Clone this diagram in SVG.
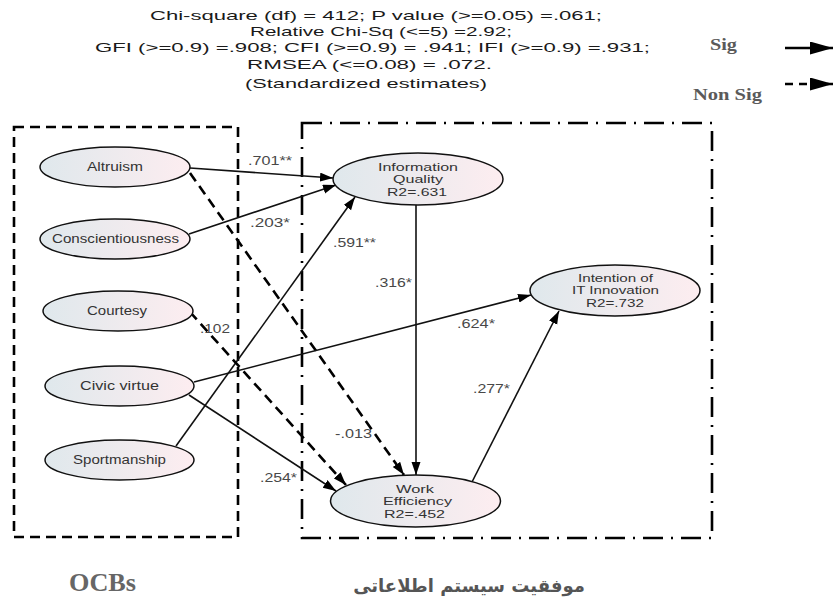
<svg xmlns="http://www.w3.org/2000/svg" width="834" height="601" viewBox="0 0 834 601">
<defs>
  <linearGradient id="g" x1="0" y1="0" x2="1" y2="0">
    <stop offset="0" stop-color="#dfe8ec"/>
    <stop offset="1" stop-color="#fdedf0"/>
  </linearGradient>
  <marker id="ah" markerUnits="userSpaceOnUse" markerWidth="14" markerHeight="10" refX="13" refY="4.5" orient="auto">
    <path d="M0,0 L13,4.5 L0,9 z" fill="#000"/>
  </marker>
  <marker id="ahL" markerUnits="userSpaceOnUse" markerWidth="24" markerHeight="14" refX="23" refY="6.5" orient="auto">
    <path d="M0,0 L23,6.5 L0,13 z" fill="#000"/>
  </marker>
  <style>
    .hdr { font-family: "Liberation Sans", Arial, sans-serif; font-size: 13px; fill: #1a1a1a; }
    .node ellipse { fill: url(#g); stroke: #111; stroke-width: 1.5; }
    .node text { font-family: "Liberation Sans", Arial, sans-serif; font-size: 12.5px; fill: #333; text-anchor: middle; }
    .node text.m { font-size: 11px; }
    .lbl { font-family: "Liberation Sans", Arial, sans-serif; font-size: 12px; fill: #484848; }
    .sig { stroke: #111; stroke-width: 1.6; fill: none; marker-end: url(#ah); }
    .ns { stroke: #000; stroke-width: 2.6; stroke-dasharray: 10 6; fill: none; marker-end: url(#ah); }
    .leg { font-family: "Liberation Serif", "Times New Roman", serif; font-weight: bold; font-size: 17px; fill: #5a5a5a; }
    .big { font-family: "Liberation Serif", "Times New Roman", serif; font-weight: bold; font-size: 26px; fill: #666; }
    .box1 { fill: none; stroke: #000; stroke-width: 2.6; stroke-dasharray: 10 6; }
    .box2 { fill: none; stroke: #000; stroke-width: 2.6; stroke-dasharray: 20 8 2 8; }
  </style>
</defs>
<rect width="834" height="601" fill="#fff"/>

<g id="header">
  <text class="hdr" x="150" y="20" textLength="452" lengthAdjust="spacingAndGlyphs">Chi-square (df) = 412;  P value (&gt;=0.05) =.061;</text>
  <text class="hdr" x="250" y="36" textLength="262" lengthAdjust="spacingAndGlyphs">Relative Chi-Sq (&lt;=5) =2.92;</text>
  <text class="hdr" x="95" y="52" textLength="555" lengthAdjust="spacingAndGlyphs">GFI (&gt;=0.9) =.908; CFI (&gt;=0.9) = .941; IFI (&gt;=0.9) =.931;</text>
  <text class="hdr" x="247" y="69" textLength="245" lengthAdjust="spacingAndGlyphs">RMSEA (&lt;=0.08) = .072.</text>
  <text class="hdr" x="245" y="88" textLength="242" lengthAdjust="spacingAndGlyphs">(Standardized estimates)</text>
</g>

<g id="legend">
  <text class="leg" x="710" y="50" textLength="27" lengthAdjust="spacingAndGlyphs">Sig</text>
  <text class="leg" x="693" y="100" textLength="69" lengthAdjust="spacingAndGlyphs">Non Sig</text>
  <line x1="785" y1="48" x2="833" y2="48" stroke="#000" stroke-width="2.5" marker-end="url(#ahL)"/>
  <line x1="785" y1="84" x2="833" y2="84" stroke="#000" stroke-width="2.5" stroke-dasharray="8 6" marker-end="url(#ahL)"/>
</g>

<g id="boxes">
  <rect class="box1" x="14" y="127" width="224" height="410"/>
  <rect class="box2" x="302" y="123" width="410" height="415"/>
</g>

<g id="connectors">
  <line class="sig" x1="190" y1="168" x2="333" y2="178"/>
  <line class="sig" x1="189" y1="234" x2="336" y2="185"/>
  <line class="sig" x1="176" y1="446" x2="355" y2="197"/>
  <line class="ns" x1="190" y1="173" x2="404" y2="475"/>
  <line class="ns" x1="190" y1="312" x2="346" y2="485"/>
  <line class="sig" x1="189" y1="395" x2="336" y2="491"/>
  <line class="sig" x1="194" y1="382" x2="531" y2="295"/>
  <line class="sig" x1="416" y1="205" x2="416" y2="475"/>
  <line class="sig" x1="472" y1="482" x2="559" y2="311"/>
</g>

<g id="edge-labels">
  <text class="lbl" x="248" y="165" textLength="44" lengthAdjust="spacingAndGlyphs">.701**</text>
  <text class="lbl" x="250" y="227" textLength="40" lengthAdjust="spacingAndGlyphs">.203*</text>
  <text class="lbl" x="333" y="247" textLength="43" lengthAdjust="spacingAndGlyphs">.591**</text>
  <text class="lbl" x="375" y="287" textLength="37" lengthAdjust="spacingAndGlyphs">.316*</text>
  <text class="lbl" x="200" y="333" textLength="30" lengthAdjust="spacingAndGlyphs">.102</text>
  <text class="lbl" x="457" y="328" textLength="38" lengthAdjust="spacingAndGlyphs">.624*</text>
  <text class="lbl" x="473" y="393" textLength="37" lengthAdjust="spacingAndGlyphs">.277*</text>
  <text class="lbl" x="335" y="438" textLength="37" lengthAdjust="spacingAndGlyphs">-.013</text>
  <text class="lbl" x="260" y="482" textLength="37" lengthAdjust="spacingAndGlyphs">.254*</text>
</g>

<g id="altruism" class="node">
  <ellipse cx="115" cy="167" rx="75" ry="20"/>
  <text x="115" y="171" textLength="56" lengthAdjust="spacingAndGlyphs">Altruism</text>
</g>
<g id="conscientiousness" class="node">
  <ellipse cx="115" cy="239" rx="75" ry="20"/>
  <text x="115.5" y="243" textLength="127" lengthAdjust="spacingAndGlyphs">Conscientiousness</text>
</g>
<g id="courtesy" class="node">
  <ellipse cx="118" cy="311" rx="75" ry="20"/>
  <text x="117" y="315" textLength="60" lengthAdjust="spacingAndGlyphs">Courtesy</text>
</g>
<g id="civic-virtue" class="node">
  <ellipse cx="119.5" cy="386" rx="74.5" ry="20"/>
  <text x="119.5" y="390" textLength="79" lengthAdjust="spacingAndGlyphs">Civic virtue</text>
</g>
<g id="sportmanship" class="node">
  <ellipse cx="119.5" cy="460" rx="74.5" ry="20"/>
  <text x="119.5" y="464" textLength="93" lengthAdjust="spacingAndGlyphs">Sportmanship</text>
</g>
<g id="information-quality" class="node">
  <ellipse cx="418" cy="179" rx="85" ry="26"/>
  <text class="m" x="418" y="170.5" textLength="80" lengthAdjust="spacingAndGlyphs">Information</text>
  <text class="m" x="418" y="183" textLength="50" lengthAdjust="spacingAndGlyphs">Quality</text>
  <text class="m" x="417" y="196" textLength="60" lengthAdjust="spacingAndGlyphs">R2=.631</text>
</g>
<g id="intention-it-innovation" class="node">
  <ellipse cx="615" cy="290.5" rx="85" ry="25.5"/>
  <text class="m" x="615.5" y="281.5" textLength="75" lengthAdjust="spacingAndGlyphs">Intention of</text>
  <text class="m" x="615.5" y="294" textLength="87" lengthAdjust="spacingAndGlyphs">IT Innovation</text>
  <text class="m" x="615" y="306.5" textLength="58" lengthAdjust="spacingAndGlyphs">R2=.732</text>
</g>
<g id="work-efficiency" class="node">
  <ellipse cx="415.5" cy="501" rx="85" ry="26"/>
  <text class="m" x="415" y="492.5" textLength="38" lengthAdjust="spacingAndGlyphs">Work</text>
  <text class="m" x="417.5" y="505" textLength="69" lengthAdjust="spacingAndGlyphs">Efficiency</text>
  <text class="m" x="414.5" y="517.5" textLength="61" lengthAdjust="spacingAndGlyphs">R2=.452</text>
</g>

<g id="group-labels">
  <text class="big" x="69" y="591" textLength="67" lengthAdjust="spacingAndGlyphs">OCBs</text>
  <text x="469" y="592" text-anchor="middle" font-family="'DejaVu Sans', 'Noto Sans', sans-serif" font-weight="bold" font-size="18" fill="#555" direction="rtl">موفقیت سیستم اطلاعاتی</text>
</g>
</svg>
